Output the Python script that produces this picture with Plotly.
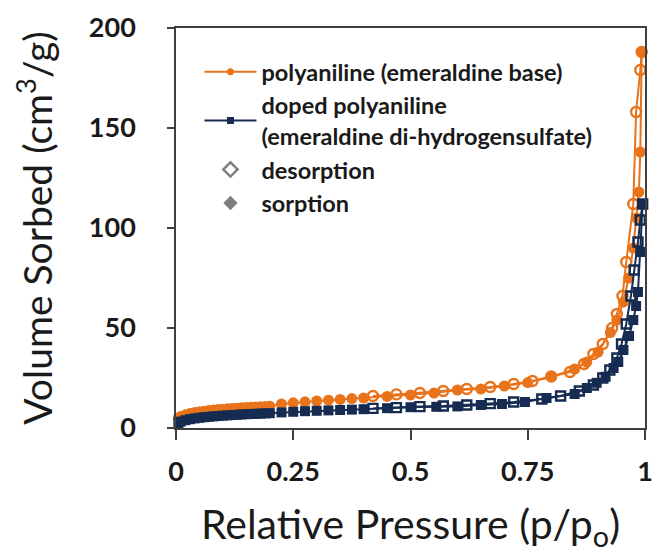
import plotly.graph_objects as go

# ---------------- data ----------------
# polyaniline (emeraldine base) - sorption
pani_sorp_x = [0.005, 0.01, 0.02, 0.03, 0.04, 0.05, 0.06, 0.07, 0.08, 0.09, 0.10,
               0.11, 0.12, 0.13, 0.14, 0.15, 0.16, 0.17, 0.18, 0.19, 0.20,
               0.225, 0.25, 0.275, 0.30, 0.325, 0.35, 0.375, 0.40, 0.45, 0.50,
               0.55, 0.60, 0.65, 0.70, 0.75, 0.80, 0.85, 0.876, 0.90, 0.926,
               0.94, 0.954, 0.965, 0.975, 0.982, 0.987, 0.990, 0.993]
pani_sorp_y = [5.0, 5.8, 6.6, 7.2, 7.7, 8.1, 8.4, 8.7, 9.0, 9.2, 9.4,
               9.6, 9.8, 9.9, 10.1, 10.2, 10.4, 10.5, 10.6, 10.8, 10.9,
               12.0, 12.6, 13.1, 13.5, 13.9, 14.3, 14.7, 15.0, 15.8, 16.5,
               17.5, 19.0, 19.5, 21.0, 22.7, 25.5, 29.5, 33.0, 38.0, 47.7,
               54.0, 63.0, 75.0, 90.0, 105.0, 118.0, 138.0, 188.0]
# polyaniline (emeraldine base) - desorption
pani_des_x = [0.993, 0.990, 0.981, 0.975, 0.960, 0.952, 0.940, 0.930, 0.910, 0.890,
              0.870, 0.840, 0.800, 0.760, 0.720, 0.670, 0.620, 0.570, 0.520, 0.470, 0.420]
pani_des_y = [188.0, 179.0, 158.0, 112.0, 83.0, 66.0, 57.0, 50.0, 42.0, 37.0,
              32.0, 28.0, 25.8, 23.5, 22.0, 20.5, 19.5, 18.5, 17.5, 16.8, 16.0]

# doped polyaniline (emeraldine di-hydrogensulfate) - sorption
dpani_sorp_x = [0.005, 0.01, 0.02, 0.03, 0.04, 0.05, 0.06, 0.07, 0.08, 0.09, 0.10,
                0.11, 0.12, 0.13, 0.14, 0.15, 0.16, 0.17, 0.18, 0.19, 0.20,
                0.225, 0.25, 0.275, 0.30, 0.325, 0.35, 0.375, 0.40, 0.45, 0.50,
                0.555, 0.60, 0.65, 0.695, 0.744, 0.79, 0.85, 0.876, 0.897, 0.916,
                0.933, 0.943, 0.954, 0.966, 0.975, 0.981, 0.985, 0.990, 0.995]
dpani_sorp_y = [2.5, 3.2, 3.9, 4.4, 4.8, 5.1, 5.4, 5.6, 5.8, 6.0, 6.2,
                6.3, 6.5, 6.6, 6.8, 6.9, 7.0, 7.1, 7.2, 7.3, 7.4,
                7.8, 8.1, 8.4, 8.6, 8.8, 9.0, 9.2, 9.4, 9.9, 10.4,
                10.6, 10.8, 11.5, 12.0, 13.0, 15.0, 17.0, 20.0, 22.6, 25.6,
                30.0, 33.0, 39.0, 46.0, 54.0, 61.0, 68.0, 88.0, 112.0]
# doped polyaniline - desorption
dpani_des_x = [0.995, 0.990, 0.985, 0.977, 0.970, 0.960, 0.950, 0.940, 0.925, 0.910,
               0.890, 0.860, 0.820, 0.780, 0.720, 0.670, 0.620, 0.570, 0.520, 0.470, 0.420]
dpani_des_y = [112.0, 104.0, 93.0, 79.0, 66.0, 52.0, 42.0, 35.0, 29.0, 25.0,
               21.5, 18.5, 16.0, 14.5, 13.0, 12.2, 11.5, 11.0, 10.7, 10.2, 9.8]

x_ticks = [0, 0.25, 0.5, 0.75, 1]
x_tick_labels = ["0", "0.25", "0.5", "0.75", "1"]
y_ticks = [0, 50, 100, 150, 200]

ORANGE = "#E8731A"
NAVY = "#152B52"
GRAY = "#7F7F7F"

fig = go.Figure()

# data traces
fig.add_trace(go.Scatter(x=pani_des_x, y=pani_des_y, mode="lines+markers",
                         line=dict(color=ORANGE, width=2),
                         marker=dict(symbol="circle-open", size=10, color=ORANGE,
                                     line=dict(width=2.4, color=ORANGE)),
                         showlegend=False, cliponaxis=False))
fig.add_trace(go.Scatter(x=pani_sorp_x, y=pani_sorp_y, mode="lines+markers",
                         line=dict(color=ORANGE, width=2),
                         marker=dict(symbol="circle", size=11, color=ORANGE),
                         showlegend=False, cliponaxis=False))
fig.add_trace(go.Scatter(x=dpani_des_x, y=dpani_des_y, mode="lines+markers",
                         line=dict(color=NAVY, width=2),
                         marker=dict(symbol="square-open", size=9, color=NAVY,
                                     line=dict(width=2.4, color=NAVY)),
                         showlegend=False, cliponaxis=False))
fig.add_trace(go.Scatter(x=dpani_sorp_x, y=dpani_sorp_y, mode="lines+markers",
                         line=dict(color=NAVY, width=2),
                         marker=dict(symbol="square", size=10, color=NAVY),
                         showlegend=False, cliponaxis=False))

# legend entries
fig.add_trace(go.Scatter(x=[None], y=[None], mode="lines+markers",
                         name="polyaniline (emeraldine base)",
                         line=dict(color=ORANGE, width=2),
                         marker=dict(symbol="circle", size=7, color=ORANGE)))
fig.add_trace(go.Scatter(x=[None], y=[None], mode="lines+markers",
                         name="doped polyaniline<br>(emeraldine di-hydrogensulfate)",
                         line=dict(color=NAVY, width=2),
                         marker=dict(symbol="square", size=7, color=NAVY)))
fig.add_trace(go.Scatter(x=[None], y=[None], mode="markers", name="desorption",
                         marker=dict(symbol="diamond-open", size=11, color=GRAY,
                                     line=dict(width=2.5, color=GRAY))))
fig.add_trace(go.Scatter(x=[None], y=[None], mode="markers", name="sorption",
                         marker=dict(symbol="diamond", size=11, color=GRAY)))

FONT = "Lato"
TXT = "#1a1a1a"

fig.update_layout(
    width=662, height=554,
    margin=dict(l=176, r=9, t=28, b=126),
    plot_bgcolor="white", paper_bgcolor="white",
    font=dict(family=FONT, color=TXT),
    showlegend=True,
    legend=dict(x=0.05, y=0.945, xanchor="left", yanchor="top",
                bgcolor="rgba(0,0,0,0)", borderwidth=0,
                font=dict(family=FONT, size=23.5, weight="bold", color=TXT),
                itemwidth=52, tracegroupgap=0),
    xaxis=dict(range=[0, 1], tickvals=x_ticks, ticktext=x_tick_labels,
               showgrid=False, zeroline=False,
               showline=True, linecolor="#404040", linewidth=1.5, mirror=True,
               ticks="outside", ticklen=10, tickwidth=1.5, tickcolor="#404040",
               ticklabelstandoff=9,
               tickfont=dict(family=FONT, size=27, weight="bold", color=TXT),
               title=dict(text="Relative Pressure (p/p<sub>o</sub>)",
                          font=dict(family=FONT, size=41, color=TXT),
                          standoff=24)),
    yaxis=dict(range=[0, 200], tickvals=y_ticks,
               showgrid=False, zeroline=False,
               showline=True, linecolor="#404040", linewidth=1.5, mirror=True,
               ticks="outside", ticklen=7, tickwidth=1.5, tickcolor="#404040",
               ticklabelstandoff=26,
               tickfont=dict(family=FONT, size=27, weight="bold", color=TXT),
               title=dict(text="Volume Sorbed (cm<sup>3</sup>/g)",
                          font=dict(family=FONT, size=39, color=TXT),
                          standoff=24)),
)

fig.write_html("out.html")
